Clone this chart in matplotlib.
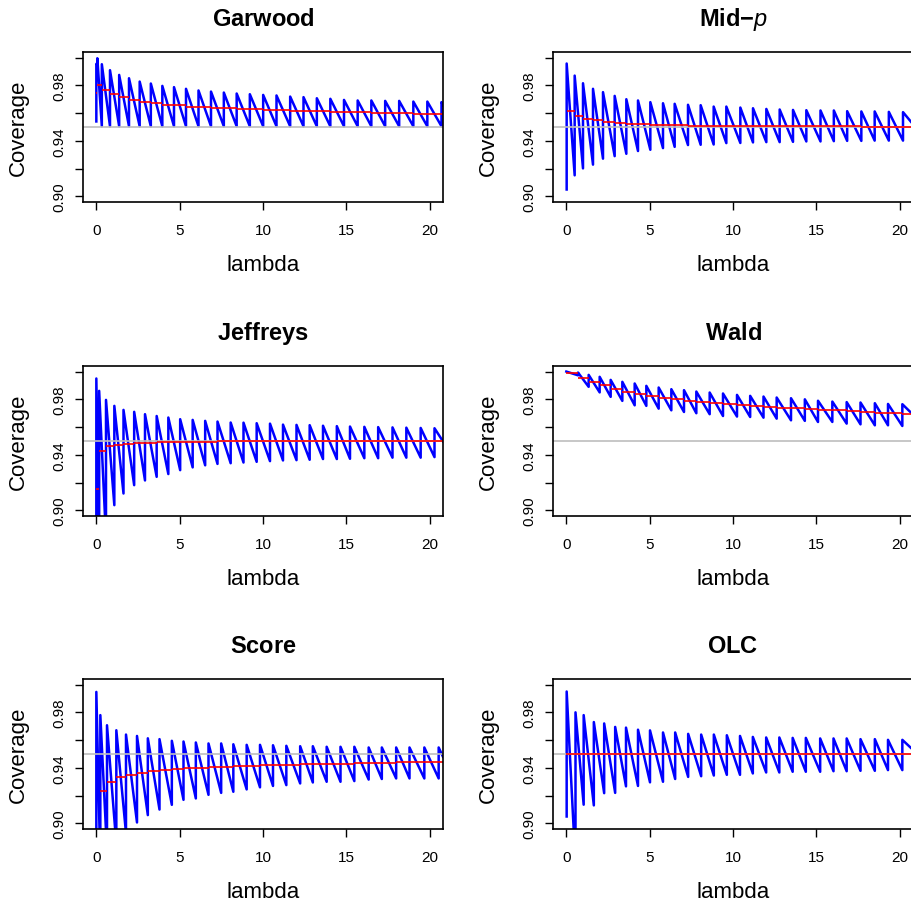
import numpy as np
import matplotlib
matplotlib.use('Agg')
import matplotlib.pyplot as plt

plt.rcParams['font.family'] = ['Liberation Sans', 'DejaVu Sans']
plt.rcParams['mathtext.fontset'] = 'custom'
plt.rcParams['mathtext.rm'] = 'Liberation Sans'
plt.rcParams['mathtext.bf'] = 'Liberation Sans:bold'
plt.rcParams['mathtext.it'] = 'Liberation Sans:italic'

XMAX = 20.8

# each panel: lambda of each jump, coverage just before (lo) and after (hi) it,
# the red average level from that jump on, and the coverage at the right edge
garwood_lam = [0, 0.06, 0.33, 0.82, 1.37, 1.96, 2.60, 3.27, 3.96, 4.66, 5.38, 6.13, 6.88, 7.65,
               8.42, 9.21, 10.01, 10.81, 11.63, 12.43, 13.23, 14.04, 14.86, 15.68, 16.50, 17.33,
               18.17, 19.02, 19.86, 20.71]
garwood_lo = [0.954, 0.995, 0.9505, 0.9505, 0.9505, 0.9505, 0.9505, 0.9505, 0.9505, 0.9505,
              0.9505, 0.9505, 0.9505, 0.9505, 0.9505, 0.9505, 0.9505, 0.9505, 0.9505, 0.9505,
              0.9505, 0.9505, 0.9505, 0.9505, 0.9505, 0.9505, 0.9505, 0.9505, 0.9505, 0.9505]
garwood_hi = [0.9955, 0.9995, 0.9952, 0.9909, 0.9875, 0.9851, 0.9827, 0.9813, 0.9796, 0.9787,
              0.9775, 0.9763, 0.9755, 0.9748, 0.9741, 0.9736, 0.9731, 0.9727, 0.9719, 0.9715,
              0.9707, 0.9703, 0.9695, 0.9691, 0.9691, 0.9688, 0.9688, 0.9683, 0.9683, 0.9679]
garwood_red = [0.9748, 0.980, 0.9763, 0.9734, 0.9715, 0.9695, 0.9683, 0.967, 0.9662, 0.9655,
               0.9647, 0.9643, 0.9638, 0.9634, 0.963, 0.9627, 0.9624, 0.9621, 0.9618, 0.9615,
               0.9612, 0.961, 0.9607, 0.9605, 0.9602, 0.960, 0.9598, 0.9596, 0.9594, 0.9592]
garwood_end = 0.966

midp_lam = [0.02, 0.5, 1.0, 1.6, 2.2, 2.9, 3.6, 4.3, 5.04, 5.8, 6.5, 7.3, 8.06, 8.84, 9.6,
            10.44, 11.2, 12.0, 12.8, 13.6, 14.4, 15.25, 16.05, 16.85, 17.7, 18.5, 19.35, 20.2]
midp_lo = [0.905, 0.9152, 0.9202, 0.9229, 0.9272, 0.929, 0.9307, 0.9327, 0.9336, 0.9348,
           0.9357, 0.937, 0.9372, 0.9374, 0.9384, 0.9385, 0.9389, 0.9391, 0.9391, 0.9393,
           0.9396, 0.9396, 0.9398, 0.940, 0.940, 0.9402, 0.9402, 0.9402]
midp_hi = [0.9957, 0.987, 0.9815, 0.9775, 0.9751, 0.9724, 0.970, 0.9691, 0.9679, 0.9671,
           0.9667, 0.966, 0.9657, 0.9647, 0.9647, 0.964, 0.9635, 0.963, 0.9626, 0.9623,
           0.9621, 0.9619, 0.9619, 0.9614, 0.9612, 0.9612, 0.9609, 0.9607]
midp_red = [0.9616, 0.958, 0.9559, 0.9547, 0.9535, 0.9527, 0.9522, 0.9518, 0.9515, 0.9513,
            0.9511, 0.951, 0.9509, 0.9508, 0.9507, 0.9507, 0.9506, 0.9506, 0.9505, 0.9505,
            0.9505, 0.9504, 0.9504, 0.9504, 0.9503, 0.9503, 0.9503, 0.9503]
midp_end = 0.952

jeffreys_lam = [0, 0.17, 0.58, 1.08, 1.63, 2.27, 2.92, 3.62, 4.32, 5.03, 5.78, 6.53, 7.27,
                8.06, 8.83, 9.62, 10.42, 11.2, 12.01, 12.8, 13.6, 14.43, 15.22, 16.08, 16.91,
                17.77, 18.6, 19.46, 20.29]
jeffreys_lo = [0.85, 0.87, 0.88, 0.9038, 0.9122, 0.9182, 0.9216, 0.9242, 0.9262, 0.929, 0.931,
               0.9325, 0.9335, 0.934, 0.9345, 0.935, 0.9355, 0.936, 0.9362, 0.9365, 0.937,
               0.937, 0.9372, 0.9376, 0.9376, 0.938, 0.938, 0.938, 0.9384]
jeffreys_hi = [0.995, 0.9861, 0.9796, 0.9753, 0.9724, 0.971, 0.9693, 0.968, 0.9669, 0.9657,
               0.9652, 0.9645, 0.964, 0.9633, 0.9632, 0.9628, 0.9625, 0.9618, 0.9616, 0.9614,
               0.961, 0.9607, 0.9604, 0.9602, 0.960, 0.9598, 0.9596, 0.9594, 0.9592]
jeffreys_red = [0.9157, 0.9428, 0.9464, 0.947, 0.948, 0.9485, 0.9488, 0.949, 0.9492, 0.9494,
                0.9495, 0.9496, 0.9497, 0.9497, 0.9498, 0.9498, 0.9498, 0.9499, 0.9499, 0.9499,
                0.9499, 0.950, 0.950, 0.950, 0.950, 0.950, 0.950, 0.950, 0.950]
jeffreys_end = 0.9497

wald_lam = [0, 0.7, 1.34, 2.0, 2.66, 3.36, 4.1, 4.8, 5.54, 6.3, 7.06, 7.8, 8.6, 9.4, 10.24,
            11.03, 11.83, 12.62, 13.48, 14.31, 15.1, 15.96, 16.82, 17.65, 18.51, 19.3, 20.16]
wald_lo = [1.0, 0.9973, 0.989, 0.985, 0.9818, 0.9789, 0.9757, 0.9753, 0.9733, 0.9721, 0.9709,
           0.970, 0.9693, 0.968, 0.9676, 0.9673, 0.9668, 0.9661, 0.9649, 0.9645, 0.9637,
           0.9637, 0.9625, 0.962, 0.9613, 0.9613, 0.9608]
wald_hi = [1.0, 0.9993, 0.9976, 0.9962, 0.994, 0.9926, 0.9914, 0.9897, 0.9885, 0.9873, 0.9866,
           0.9856, 0.9849, 0.9842, 0.9832, 0.9825, 0.982, 0.9813, 0.9808, 0.980, 0.979,
           0.9784, 0.978, 0.9777, 0.9772, 0.9767, 0.9765]
wald_red = [0.9993, 0.9957, 0.9926, 0.9902, 0.9878, 0.9856, 0.9842, 0.9825, 0.9813, 0.980,
            0.9789, 0.9781, 0.9772, 0.9765, 0.9757, 0.975, 0.9745, 0.974, 0.9735, 0.973,
            0.9725, 0.972, 0.9715, 0.971, 0.9705, 0.970, 0.9695]
wald_end = 0.969

score_lam = [0, 0.24, 0.64, 1.2, 1.78, 2.44, 3.09, 3.79, 4.53, 5.23, 5.97, 6.73, 7.49, 8.22,
             9.02, 9.82, 10.6, 11.4, 12.23, 12.99, 13.82, 14.65, 15.48, 16.34, 17.13, 17.99,
             18.79, 19.68, 20.54]
score_lo = [0.85, 0.87, 0.88, 0.885, 0.893, 0.9007, 0.906, 0.910, 0.9134, 0.917, 0.918,
            0.9206, 0.922, 0.9228, 0.9245, 0.926, 0.927, 0.9276, 0.9288, 0.9295, 0.930, 0.930,
            0.9305, 0.9316, 0.932, 0.9324, 0.9324, 0.9324, 0.9324]
score_hi = [0.9947, 0.978, 0.9707, 0.9671, 0.964, 0.963, 0.9613, 0.9607, 0.9595, 0.959,
            0.9583, 0.9576, 0.9576, 0.957, 0.9566, 0.9566, 0.9563, 0.9559, 0.9556, 0.9556,
            0.9552, 0.9552, 0.9552, 0.9547, 0.9547, 0.9547, 0.9547, 0.9547, 0.9547]
score_red = [0.88, 0.9235, 0.930, 0.9331, 0.9348, 0.9362, 0.9374, 0.9384, 0.939, 0.9396, 0.940,
             0.9405, 0.9409, 0.9412, 0.9415, 0.9418, 0.942, 0.9423, 0.9425, 0.9427, 0.9429,
             0.9431, 0.9433, 0.9435, 0.9437, 0.9439, 0.944, 0.9442, 0.9444]
score_end = 0.948

olc_lam = [0.02, 0.55, 1.04, 1.65, 2.27, 2.93, 3.58, 4.3, 5.02, 5.8, 6.53, 7.31, 8.09, 8.85,
           9.63, 10.42, 11.19, 11.99, 12.78, 13.58, 14.37, 15.23, 16.03, 16.82, 17.65, 18.51,
           19.3, 20.16]
olc_lo = [0.905, 0.87, 0.9135, 0.913, 0.9218, 0.922, 0.9267, 0.927, 0.9296, 0.930, 0.932,
          0.9335, 0.934, 0.9345, 0.935, 0.935, 0.936, 0.9367, 0.9367, 0.9372, 0.9372, 0.9372,
          0.9376, 0.9376, 0.9379, 0.9379, 0.9384, 0.9384]
olc_hi = [0.995, 0.980, 0.978, 0.973, 0.972, 0.9695, 0.969, 0.9675, 0.967, 0.9655, 0.9655,
          0.9645, 0.964, 0.964, 0.9635, 0.963, 0.9623, 0.9619, 0.9619, 0.9616, 0.9616, 0.9612,
          0.9612, 0.9612, 0.9607, 0.9607, 0.9602, 0.9602]
olc_red = [0.95]
olc_red_lam = [0]
olc_end = 0.953

panels = [
    (r'$\mathbf{Garwood}$', garwood_lam, garwood_lo, garwood_hi, garwood_lam, garwood_red, garwood_end),
    (r'$\mathbf{Mid}\mathbf{-}\mathit{p}$', midp_lam, midp_lo, midp_hi, midp_lam, midp_red, midp_end),
    (r'$\mathbf{Jeffreys}$', jeffreys_lam, jeffreys_lo, jeffreys_hi, jeffreys_lam, jeffreys_red, jeffreys_end),
    (r'$\mathbf{Wald}$', wald_lam, wald_lo, wald_hi, wald_lam, wald_red, wald_end),
    (r'$\mathbf{Score}$', score_lam, score_lo, score_hi, score_lam, score_red, score_end),
    (r'$\mathbf{OLC}$', olc_lam, olc_lo, olc_hi, olc_red_lam, olc_red, olc_end),
]

W, H = 912, 903
fig = plt.figure(figsize=(W / 100, H / 100), dpi=100)

col_x = [83, 553]
row_y = [53, 367, 680]
bw, bh = 360, 150

for i, (title, lam, lo, hi, rlam, red, end) in enumerate(panels):
    r, c = divmod(i, 2)
    x0, y0 = col_x[c], row_y[r]
    ax = fig.add_axes([x0 / W, 1 - (y0 + bh) / H, bw / W, bh / H])

    xs = np.append(np.repeat(lam, 2), XMAX)
    ys = np.append(np.column_stack([lo, hi]).ravel(), end)
    ax.plot(xs, ys, color='blue', lw=1.8)
    ax.axhline(0.95, color='#bebebe', lw=1.2)
    ax.hlines(red, rlam, np.append(rlam[1:], XMAX), color='red', lw=1.2)

    ax.set_xlim(-0.8, 20.8)
    ax.set_ylim(0.896, 1.004)
    ax.set_xticks([0, 5, 10, 15, 20])
    ax.set_yticks([0.90, 0.92, 0.94, 0.96, 0.98, 1.00])
    ax.set_yticklabels(['0.90', '', '0.94', '', '0.98', ''], rotation=90, va='center')
    ax.tick_params(axis='both', direction='out', length=6, width=1, labelsize=11)
    ax.tick_params(axis='x', pad=9)
    ax.tick_params(axis='y', pad=6)
    for s in ax.spines.values():
        s.set_linewidth(1.2)

    cx = x0 + bw / 2
    fig.text(cx / W, 1 - (y0 - 27) / H, title, ha='center', va='baseline', fontsize=17)
    fig.text(cx / W, 1 - (y0 + bh + 68) / H, 'lambda', ha='center', va='baseline', fontsize=16)
    fig.text((x0 - 64.5) / W, 1 - (y0 + bh / 2) / H, 'Coverage', ha='center', va='center',
             rotation=90, fontsize=16)

fig.savefig('out.png', dpi=100)
